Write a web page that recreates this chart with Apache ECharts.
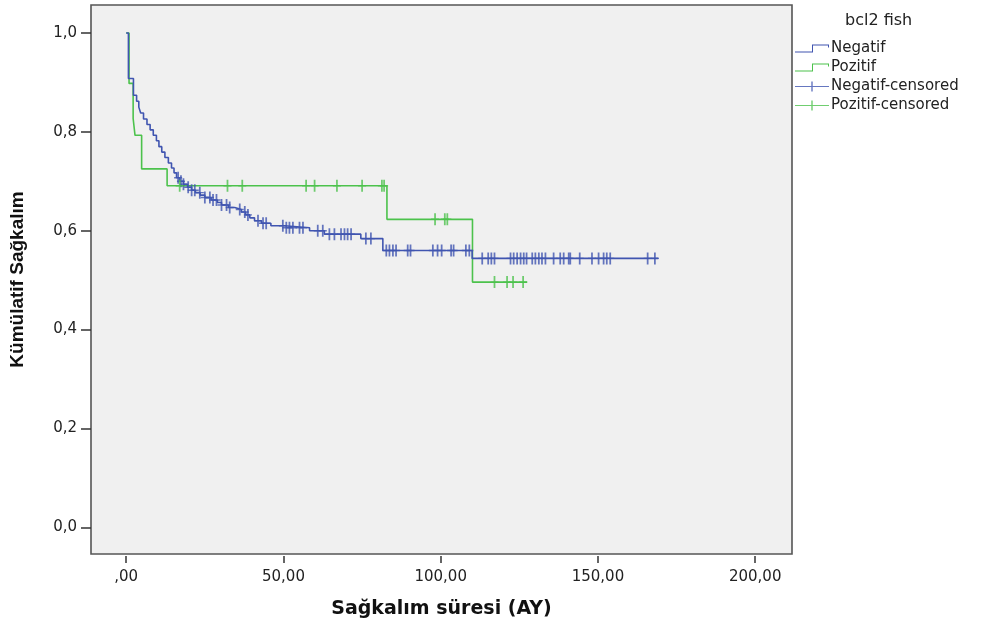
<!DOCTYPE html>
<html>
<head>
<meta charset="utf-8">
<script src="https://cdn.jsdelivr.net/npm/echarts@6/dist/echarts.min.js"></script>
<style>
  html, body { margin: 0; padding: 0; background: #fff; }
  #chart { width: 984px; height: 626px; }
</style>
</head>
<body>
<div id="chart"></div>
<script>
// Kaplan-Meier: bcl2 fish (Negatif / Pozitif)
var blueTime = [0, 0.7, 2.3, 3.3, 4.0, 4.6, 5.5, 6.6, 7.6, 8.6, 9.6, 10.4, 11.3, 12.3, 13.4, 14.4, 15.2, 16.0, 17.0, 18.2,
  19.5, 20.8, 22.0, 23.5, 25.0, 27.0, 29.0, 30.3, 32.5, 34.5, 36.6, 38.0, 39.3, 40.8, 43.0, 46.0, 50.3, 58.3, 63.0, 74.6,
  81.6, 110.0, 169.2];
var blueSurv = [1.0, 0.908, 0.874, 0.862, 0.850, 0.838, 0.826, 0.815, 0.804, 0.793, 0.782, 0.770, 0.759, 0.748, 0.737, 0.727, 0.717, 0.707, 0.700, 0.694,
  0.688, 0.682, 0.677, 0.672, 0.667, 0.662, 0.657, 0.652, 0.647, 0.643, 0.638, 0.632, 0.626, 0.620, 0.615, 0.610, 0.606, 0.600, 0.593, 0.584,
  0.560, 0.544, 0.544];
var blueCensored = [16.5, 17.4, 18.2, 19.7, 20.8, 21.8, 23.4, 25.0, 26.6, 27.6, 28.7, 30.3, 31.9, 32.9, 36.1, 37.7, 38.7, 41.9, 43.5, 44.5,
  49.8, 50.9, 51.9, 53.0, 55.1, 56.2, 60.9, 62.5, 64.6, 66.2, 68.3, 69.4, 70.4, 71.5, 76.2, 77.8, 82.7, 83.7, 84.8, 85.8,
  89.5, 90.4, 97.5, 99.0, 100.3, 103.3, 104.1, 108.0, 109.1, 113.2, 115.1, 116.1, 117.1, 122.2, 123.2, 124.3, 125.4, 126.4, 127.3,
  129.1, 130.1, 131.2, 132.2, 133.3, 135.9, 138.0, 139.1, 140.7, 141.2, 144.2, 148.1, 150.2, 151.8, 152.8, 153.9, 165.8, 168.1];

var greenTime = [0, 0.9, 2.2, 2.8, 4.9, 13.0, 82.9, 110.1, 127.5];
var greenSurv = [1.0, 0.898, 0.827, 0.793, 0.725, 0.691, 0.623, 0.496, 0.496];
var greenCensored = [17.0, 32.2, 36.9, 57.2, 59.9, 67.0, 75.0, 81.3, 82.0, 98.2, 101.3, 102.1, 117.1, 121.1, 123.0, 126.2];

var xTicks = [0, 50, 100, 150, 200];
var xTickLabels = [',00', '50,00', '100,00', '150,00', '200,00'];
var yTicks = [0, 0.2, 0.4, 0.6, 0.8, 1.0];
var yTickLabels = ['0,0', '0,2', '0,4', '0,6', '0,8', '1,0'];

var BLUE = '#4055b0';
var GREEN = '#4cc24c';
var FONT = '"DejaVu Sans", sans-serif';
var FONT_B = '"Liberation Sans", Arial, sans-serif';

function survAt(times, surv, t) {
  var v = surv[0];
  for (var i = 0; i < times.length; i++) {
    if (times[i] <= t) v = surv[i];
  }
  return v;
}
function curve(times, surv) {
  return times.map(function (t, i) { return [t, surv[i]]; });
}
function marks(times, surv, cens) {
  return cens.map(function (t) { return [t, survAt(times, surv, t)]; });
}

var plusSym = 'path://M0,4.4H10V5.6H0Z M3.9,0H6.1V10H3.9Z';
var stepIcon = 'path://M0,8H17V1H34V4H33V2H18V9H0Z';
var plusIcon = 'path://M0,4.5H34V5.5H0Z M16.3,0H17.7V10H16.3Z';

var chart = echarts.init(document.getElementById('chart'));
chart.setOption({
  animation: false,
  textStyle: { fontFamily: FONT },
  title: {
    text: 'bcl2 fish',
    left: 845, top: 13, padding: 0,
    textStyle: { fontFamily: FONT, fontSize: 16, fontWeight: 'normal', color: '#222' }
  },
  legend: {
    orient: 'vertical',
    left: 795, top: 41, padding: 0,
    itemWidth: 34, itemHeight: 10, itemGap: 4,
    textStyle: { fontFamily: FONT, fontSize: 15, color: '#222', lineHeight: 15, padding: [0, 0, 0, -3] },
    itemStyle: { borderWidth: 0 },
    data: [
      { name: 'Negatif', icon: stepIcon },
      { name: 'Pozitif', icon: stepIcon },
      { name: 'Negatif-censored', icon: plusIcon },
      { name: 'Pozitif-censored', icon: plusIcon }
    ]
  },
  grid: {
    left: 89, top: 5, right: 192, bottom: 72,
    show: true, backgroundColor: '#f0f0f0', borderColor: '#555', borderWidth: 1.6
  },
  xAxis: {
    type: 'value', min: -11.2, max: 211.7, offset: 2,
    name: 'Sağkalım süresi (AY)', nameLocation: 'middle', nameGap: 44,
    nameTextStyle: { fontFamily: FONT, fontSize: 19, fontWeight: 'bold', color: '#111' },
    axisLine: { show: false, onZero: false },
    axisTick: { show: true, length: 7, customValues: xTicks, lineStyle: { color: '#333', width: 1.5 } },
    axisLabel: {
      customValues: xTicks, margin: 14, fontSize: 15, color: '#222', fontFamily: FONT,
      formatter: function (v) { return xTickLabels[xTicks.indexOf(v)]; }
    },
    splitLine: { show: false }
  },
  yAxis: {
    type: 'value', min: -0.054, max: 1.0566,
    name: 'Kümülatif Sağkalım', nameLocation: 'middle', nameGap: 64, nameRotate: 90,
    nameTextStyle: { fontFamily: FONT_B, fontSize: 19, fontWeight: 'bold', color: '#111' },
    axisLine: { show: false, onZero: false },
    axisTick: { show: true, length: 10, customValues: yTicks, lineStyle: { color: '#333', width: 1.5 } },
    axisLabel: {
      customValues: yTicks, margin: 14, fontSize: 15, color: '#222', fontFamily: FONT,
      formatter: function (v) { return yTickLabels[yTicks.indexOf(v)]; }
    },
    splitLine: { show: false }
  },
  series: [
    {
      name: 'Negatif', type: 'line', step: 'end', showSymbol: false,
      data: curve(blueTime, blueSurv),
      itemStyle: { color: BLUE }, lineStyle: { color: BLUE, width: 1.6 }, z: 3
    },
    {
      name: 'Pozitif', type: 'line', step: 'end', showSymbol: false,
      data: curve(greenTime, greenSurv),
      itemStyle: { color: GREEN }, lineStyle: { color: GREEN, width: 1.6 }, z: 2
    },
    {
      name: 'Negatif-censored', type: 'scatter', symbol: plusSym, symbolSize: [8, 12],
      data: marks(blueTime, blueSurv, blueCensored),
      itemStyle: { color: BLUE }, z: 4
    },
    {
      name: 'Pozitif-censored', type: 'scatter', symbol: plusSym, symbolSize: [8, 12],
      data: marks(greenTime, greenSurv, greenCensored),
      itemStyle: { color: GREEN }, z: 4
    }
  ]
});
</script>
</body>
</html>
